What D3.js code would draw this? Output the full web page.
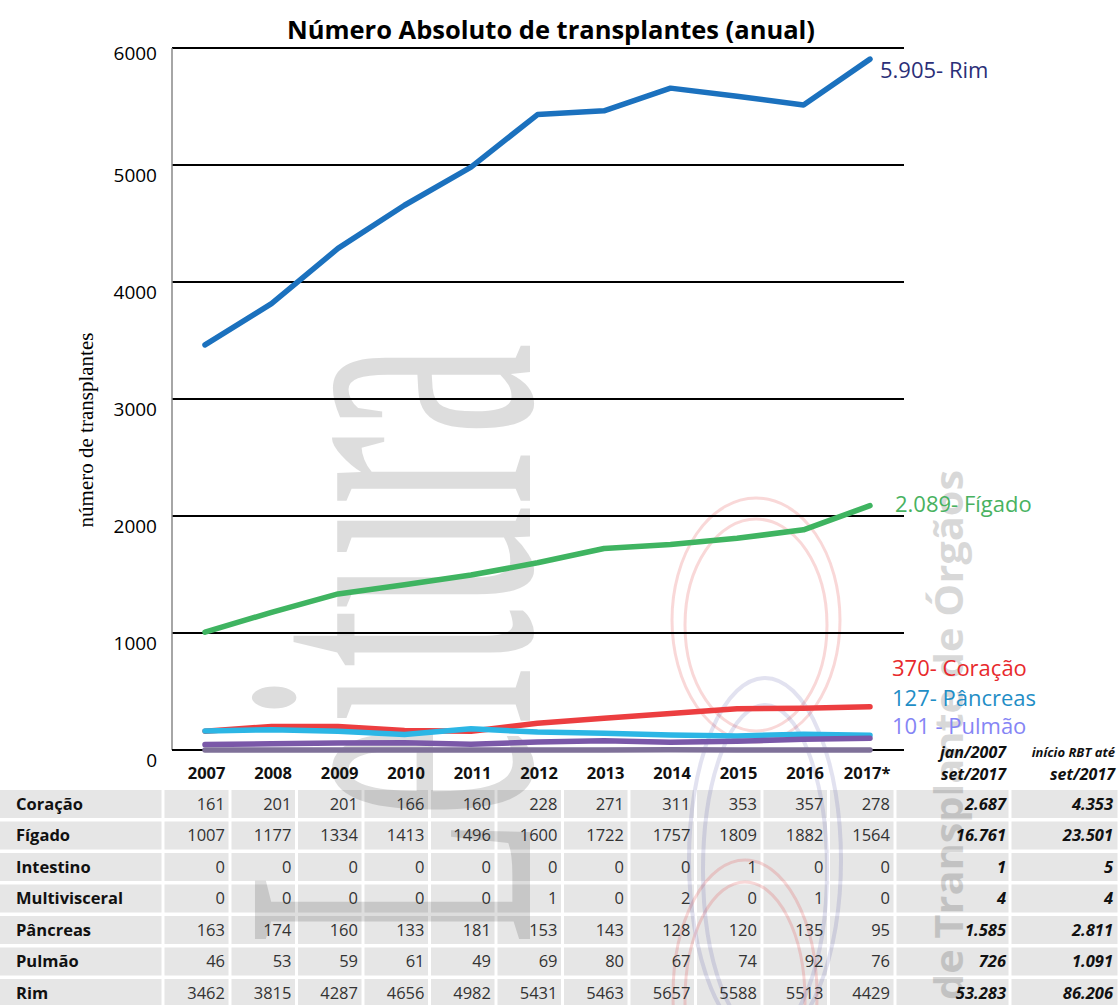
<!DOCTYPE html>
<html>
<head>
<meta charset="utf-8">
<script src="https://cdn.jsdelivr.net/npm/d3@7"></script>
<style>
  body { margin: 0; background: #fff; }
  svg { display: block; font-family: "Open Sans", sans-serif; }
</style>
</head>
<body>
<div id="chart"></div>
<script>
// categorias / anos
const years = ['2007','2008','2009','2010','2011','2012','2013','2014','2015','2016','2017*']
const rowNames = ['Coração','Fígado','Intestino','Multivisceral','Pâncreas','Pulmão','Rim']

// tabela (valores anuais)
const coracao = [161,201,201,166,160,228,271,311,353,357,278]
const figado = [1007,1177,1334,1413,1496,1600,1722,1757,1809,1882,1564]
const intestino = [0,0,0,0,0,0,0,0,1,0,0]
const multivisceral = [0,0,0,0,0,1,0,2,0,1,0]
const pancreas = [163,174,160,133,181,153,143,128,120,135,95]
const pulmao = [46,53,59,61,49,69,80,67,74,92,76]
const rim = [3462,3815,4287,4656,4982,5431,5463,5657,5588,5513,4429]
const totalPeriodo = ['2.687','16.761','1','4','1.585','726','53.283']
const totalRBT = ['4.353','23.501','5','4','2.811','1.091','86.206']

// projecao 2017 usada no grafico
const proj2017 = { rim: 5905, figado: 2089, coracao: 370, pancreas: 127, pulmao: 101, multi: 0 }
const yTicks = [0,1000,2000,3000,4000,5000,6000]

const W = 1119, H = 1005
const svg = d3.select('#chart').append('svg').attr('width', W).attr('height', H)

const x = d3.scalePoint().domain(years).range([205, 870])
const y = d3.scaleLinear().domain([0, 6000]).range([750, 48])

// fundo das linhas da tabela
const tableRows = [coracao, figado, intestino, multivisceral, pancreas, pulmao, rim]
const rowY = d3.scalePoint().domain(rowNames).range([804, 993])
const colRight = d => x(d) + 20
const colEdges = [0, 163].concat(years.map(d => x(d) + 25)).concat([1010, 1119])

const bg = svg.append('g')
rowNames.forEach(name => {
  const cy = rowY(name)
  for (let c = 0; c < colEdges.length - 1; c++) {
    bg.append('rect')
      .attr('x', colEdges[c] + (c === 0 ? 0 : 1.5))
      .attr('y', cy - 14)
      .attr('width', colEdges[c + 1] - colEdges[c] - (c === 0 ? 1.5 : 3))
      .attr('height', 28)
      .attr('fill', '#e6e6e6')
  }
})

// marca d'agua
const wm = svg.append('g').attr('pointer-events', 'none')
wm.append('text')
  .attr('transform', 'translate(530,945) rotate(-90)')
  .attr('font-size', 420).attr('font-family', 'Liberation Serif, serif')
  .attr('textLength', 602).attr('lengthAdjust', 'spacingAndGlyphs')
  .attr('fill', '#000').attr('opacity', 0.13)
  .text('Leitura')
;[[756, 620, 84, 122], [756, 625, 71, 106], [745, 995, 72, 135], [745, 1000, 60, 118]].forEach(e => {
  wm.append('ellipse').attr('cx', e[0]).attr('cy', e[1]).attr('rx', e[2]).attr('ry', e[3])
    .attr('fill', 'none').attr('stroke', '#e23b3b').attr('stroke-width', 3).attr('opacity', 0.2)
})
;[[765, 860, 76, 182], [765, 870, 62, 165]].forEach(e => {
  wm.append('ellipse').attr('cx', e[0]).attr('cy', e[1]).attr('rx', e[2]).attr('ry', e[3])
    .attr('fill', 'none').attr('stroke', '#4a4aa0').attr('stroke-width', 4).attr('opacity', 0.16)
})
wm.append('text')
  .attr('transform', 'translate(963,1000) rotate(-90)')
  .attr('font-size', 40).attr('font-weight', 'bold')
  .attr('textLength', 530).attr('lengthAdjust', 'spacingAndGlyphs')
  .attr('fill', '#000').attr('opacity', 0.15)
  .text('de Transplante de Órgãos')

// titulo
svg.append('text')
  .attr('x', 551).attr('y', 30).attr('dy', '0.35em')
  .attr('text-anchor', 'middle').attr('font-size', 25.5).attr('font-weight', 'bold')
  .text('Número Absoluto de transplantes (anual)')

// grade
svg.append('g')
  .selectAll('line').data(yTicks.filter(d => d > 0)).join('line')
  .attr('x1', 172).attr('x2', 904)
  .attr('y1', d => y(d)).attr('y2', d => y(d))
  .attr('stroke', '#000').attr('stroke-width', 2)

svg.append('line').attr('x1', 172).attr('x2', 172).attr('y1', y(6000)).attr('y2', y(0))
  .attr('stroke', '#888').attr('stroke-width', 1.5)

// eixo y
const yAxis = svg.append('g')
  .attr('transform', 'translate(157,0)')
  .call(d3.axisLeft(y).tickValues(yTicks).tickSize(0).tickPadding(0).tickFormat(d3.format('d')))
yAxis.select('.domain').remove()
yAxis.selectAll('text').attr('font-size', 19).attr('fill', '#000')
  .attr('font-family', '"Open Sans", sans-serif')
  .attr('transform', d => `translate(0,${d === 6000 ? 5 : 10})`)

svg.append('text')
  .attr('transform', 'translate(86,430) rotate(-90)')
  .attr('text-anchor', 'middle').attr('dy', '0.35em')
  .attr('font-family', 'Liberation Serif, serif').attr('font-size', 21)
  .text('número de transplantes')

// series do grafico
const withProj = (arr, p) => arr.slice(0, 10).concat([p])
const series = [
  { key: 'rim', values: withProj(rim, proj2017.rim), color: '#1b71be' },
  { key: 'figado', values: withProj(figado, proj2017.figado), color: '#3fb461' },
  { key: 'coracao', values: withProj(coracao, proj2017.coracao), color: '#ec3e40' },
  { key: 'pancreas', values: withProj(pancreas, proj2017.pancreas), color: '#2cb6e5' },
  { key: 'pulmao', values: withProj(pulmao, proj2017.pulmao), color: '#7a58a8' },
  { key: 'multi', values: withProj(multivisceral, proj2017.multi), color: '#7f7199' }
]

const line = d3.line().x((d, i) => x(years[i])).y(d => y(d))

// eixo x (linha)
svg.append('line').attr('x1', 172).attr('x2', 904).attr('y1', y(0)).attr('y2', y(0))
  .attr('stroke', '#000').attr('stroke-width', 2)

svg.append('g').selectAll('path').data(series).join('path')
  .attr('d', d => line(d.values))
  .attr('fill', 'none')
  .attr('stroke', d => d.color)
  .attr('stroke-width', 5.5)
  .attr('stroke-linecap', 'round')
  .attr('stroke-linejoin', 'round')

// rotulos das series
const endLabels = [
  { text: '5.905- Rim', x: 880, y: 70, color: '#2b2f78' },
  { text: '2.089- Fígado', x: 895, y: 504, color: '#48b260' },
  { text: '370- Coração', x: 892, y: 668, color: '#e8292c' },
  { text: '127- Pâncreas', x: 892, y: 698, color: '#1f8ec6' },
  { text: '101 - Pulmão', x: 892, y: 726, color: '#8585f5' }
]
svg.append('g').selectAll('text').data(endLabels).join('text')
  .attr('x', d => d.x).attr('y', d => d.y).attr('dy', '0.35em')
  .attr('font-size', 22).attr('fill', d => d.color)
  .text(d => d.text)

// cabecalho dos anos via eixo
const xAxis = svg.append('g')
  .attr('transform', 'translate(20,773)')
  .call(d3.axisBottom(x).tickSize(0).tickPadding(0))
xAxis.select('.domain').remove()
xAxis.selectAll('text')
  .attr('y', 0).attr('dy', '0.35em')
  .attr('text-anchor', 'end')
  .attr('font-size', 16.5).attr('font-weight', 'bold').attr('fill', '#111')
  .attr('font-family', '"Open Sans", sans-serif')

// cabecalhos dos totais
const hdr = svg.append('g').attr('font-style', 'italic').attr('font-weight', 'bold')
  .attr('text-anchor', 'end').attr('fill', '#111')
hdr.append('text').attr('x', 1006).attr('y', 752).attr('dy', '0.35em').attr('font-size', 16).text('jan/2007')
hdr.append('text').attr('x', 1006).attr('y', 774).attr('dy', '0.35em').attr('font-size', 16).text('set/2017')
hdr.append('text').attr('x', 1115).attr('y', 752).attr('dy', '0.35em').attr('font-size', 13).text('início RBT até')
hdr.append('text').attr('x', 1115).attr('y', 774).attr('dy', '0.35em').attr('font-size', 16).text('set/2017')

// texto da tabela
const tbl = svg.append('g')
rowNames.forEach((name, r) => {
  const cy = rowY(name)
  tbl.append('text').attr('x', 16).attr('y', cy).attr('dy', '0.35em')
    .attr('font-size', 16.5).attr('font-weight', 'bold').attr('fill', '#111')
    .text(name)
  tbl.selectAll(null).data(tableRows[r]).join('text')
    .attr('x', (d, i) => colRight(years[i])).attr('y', cy).attr('dy', '0.35em')
    .attr('text-anchor', 'end').attr('font-size', 16.5).attr('fill', '#333')
    .text(d => d)
  tbl.append('text').attr('x', 1006).attr('y', cy).attr('dy', '0.35em')
    .attr('text-anchor', 'end').attr('font-size', 16.5).attr('font-weight', 'bold')
    .attr('font-style', 'italic').attr('fill', '#111')
    .text(totalPeriodo[r])
  tbl.append('text').attr('x', 1113).attr('y', cy).attr('dy', '0.35em')
    .attr('text-anchor', 'end').attr('font-size', 16.5).attr('font-weight', 'bold')
    .attr('font-style', 'italic').attr('fill', '#111')
    .text(totalRBT[r])
})
</script>
</body>
</html>
